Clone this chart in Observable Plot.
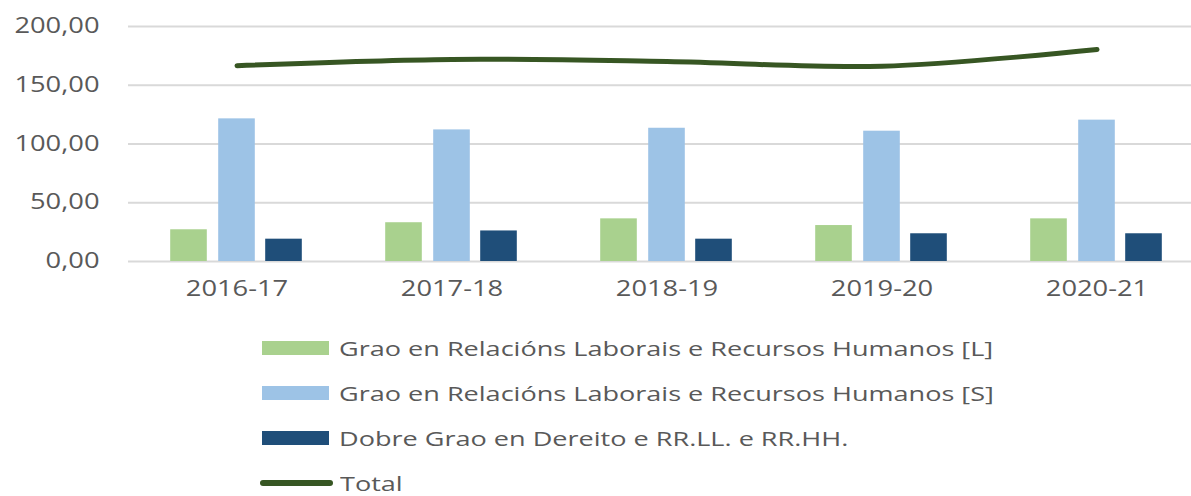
<!DOCTYPE html>
<html><head><meta charset="utf-8">
<script src="https://cdn.jsdelivr.net/npm/d3@7"></script>
<script src="https://cdn.jsdelivr.net/npm/@observablehq/plot@0.6"></script>
<style>
html,body{margin:0;padding:0;background:#fff;overflow:hidden;font-family:"Open Sans",sans-serif;}
#legend{padding-left:262px;padding-top:10px;}
.row{display:flex;align-items:center;height:45px;}
.sw{width:67px;height:14px;margin-right:10px;flex:none;}
.swline{width:73px;height:6px;border-radius:3px;margin-left:-2px;margin-right:7px;flex:none;}
.lab{font-size:20.5px;line-height:24px;color:#595959;display:inline-block;transform:scaleX(1.32);transform-origin:left center;white-space:nowrap;}
</style></head><body>
<div id="chart"></div><div id="legend"></div>
<script>
const years = ["2016-17", "2017-18", "2018-19", "2019-20", "2020-21"];
const seriesNames = [
  "Grao en Relacións Laborais e Recursos Humanos [L]",
  "Grao en Relacións Laborais e Recursos Humanos [S]",
  "Dobre Grao en Dereito e RR.LL. e RR.HH."
];
const totalName = "Total";
const valuesL = [27.0, 33.0, 36.3, 30.6, 36.3];
const valuesS = [121.4, 112.0, 113.4, 110.9, 120.3];
const valuesD = [19.0, 26.0, 19.0, 23.6, 23.6];
const totals = [166.6, 172.0, 170.2, 166.2, 180.4];
const yTicks = [0, 50, 100, 150, 200];

const colors = ["#A9D18E", "#9DC3E6", "#1F4E79"];
const totalColor = "#375623";
const offsets = [-48, 0, 47];
const seriesValues = [valuesL, valuesS, valuesD];

const barData = seriesValues.map((vals, s) => years.map((y, i) => ({year: y, value: vals[i], series: s})));
const lineData = years.map((y, i) => ({year: y, total: totals[i]}));

const W = 1191, mL = 128, mR = -14;
const band = (W - mL - mR) / years.length;
const inset = (band - 37) / 2;

const svg = Plot.plot({
  width: W, height: 315,
  marginLeft: mL, marginRight: mR, marginTop: 26, marginBottom: 54,
  style: {fontFamily: "'Open Sans', sans-serif", fontSize: "21px", color: "#595959", background: "#fff", overflow: "hidden"},
  x: {domain: years, padding: 0, label: null, tickSize: 0, tickPadding: 20},
  y: {domain: [0, 200], label: null, ticks: yTicks, tickSize: 0, tickPadding: 29,
      tickFormat: d => d.toFixed(2).replace(".", ",")},
  marks: [
    Plot.ruleY(yTicks, {stroke: "#d9d9d9", strokeWidth: 2}),
    ...barData.map((d, s) => Plot.barY(d, {x: "year", y: "value", fill: colors[s], dx: offsets[s], insetLeft: inset, insetRight: inset})),
    Plot.line(lineData, {x: "year", y: "total", curve: "catmull-rom", stroke: totalColor, strokeWidth: 5, strokeLinecap: "round"})
  ]
});
document.getElementById("chart").append(svg);
svg.querySelectorAll("text").forEach(t => {
  const w = t.getComputedTextLength();
  if (w > 0) { t.setAttribute("textLength", w * 1.3); t.setAttribute("lengthAdjust", "spacingAndGlyphs"); }
});

const legend = document.getElementById("legend");
seriesNames.forEach((n, i) => {
  const r = document.createElement("div"); r.className = "row";
  const sw = document.createElement("div"); sw.className = "sw"; sw.style.background = colors[i];
  const lb = document.createElement("span"); lb.className = "lab"; lb.textContent = n;
  r.append(sw, lb); legend.append(r);
});
{
  const r = document.createElement("div"); r.className = "row";
  const sw = document.createElement("div"); sw.className = "swline"; sw.style.background = totalColor;
  const lb = document.createElement("span"); lb.className = "lab"; lb.textContent = totalName;
  r.append(sw, lb); legend.append(r);
}
</script>
</body></html>
